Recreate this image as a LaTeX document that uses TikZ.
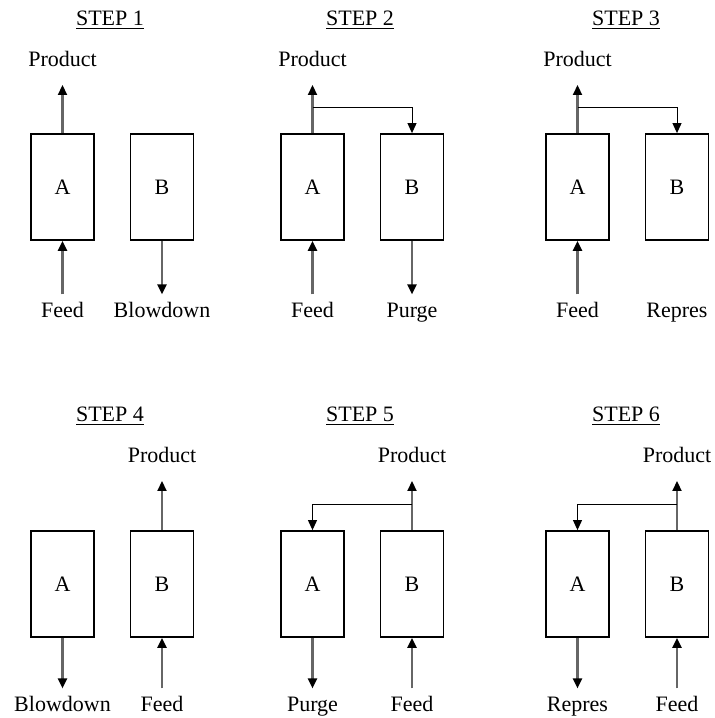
\documentclass[tikz,border=0pt]{standalone}
\usepackage{fontspec}
\setmainfont{Liberation Serif}
\usetikzlibrary{arrows.meta,calc}

\tikzset{
  bed/.style={draw, line width=0.9pt, minimum width=31.5pt, minimum height=53pt, inner sep=0pt},
  stream/.style={draw=black!60, line width=1.1pt, -{Triangle[width=4.5pt,length=5pt,color=black]}},
  recycle/.style={draw=black, line width=0.5pt, -{Triangle[width=4.5pt,length=5pt]}},
  steptitle/.style={anchor=base},
  toplbl/.style={anchor=base, inner ysep=7pt, text depth=0.5ex},
  botlbl/.style={anchor=base, inner ysep=1.9pt, text height=2ex}
}

\begin{document}
\begin{tikzpicture}[x=0.5pt, y=-0.5pt, font=\fontsize{11}{13}\selectfont]
    \useasboundingbox (0,0) rectangle (715,718);
    % ---- step 1 : A on feed, B blown down
    \begin{scope}[shift={(0,0)}]
      \node[steptitle] (t1) at (110,25) {\underline{STEP 1}};
      \node[bed] (a1) at (62.5,187) {A};
      \node[bed] (b1) at (162,187) {B};
      \node[toplbl] (p1) at (62.5,66) {Product};
      \node[botlbl] (f1) at (62.5,317) {Feed};
      \node[botlbl] (w1) at (162,317) {Blowdown};
      \draw[stream] (a1.north) -- (p1.south);
      \draw[stream] (f1.north) -- (a1.south);
      \draw[stream] (b1.south) -- (w1.north);
    \end{scope}
    % ---- step 2 : A on feed, B purged with product
    \begin{scope}[shift={(250,0)}]
      \node[steptitle] (t2) at (110,25) {\underline{STEP 2}};
      \node[bed] (a2) at (62.5,187) {A};
      \node[bed] (b2) at (162,187) {B};
      \node[toplbl] (p2) at (62.5,66) {Product};
      \node[botlbl] (f2) at (62.5,317) {Feed};
      \node[botlbl] (g2) at (162,317) {Purge};
      \coordinate (j2) at ($(a2.north)+(0,-26)$);
      \draw[stream] (a2.north) -- (p2.south);
      \draw[recycle] (j2) -| (b2.north);
      \draw[stream] (f2.north) -- (a2.south);
      \draw[stream] (b2.south) -- (g2.north);
    \end{scope}
    % ---- step 3 : A on feed, B repressurised
    \begin{scope}[shift={(515,0)}]
      \node[steptitle] (t3) at (111,25) {\underline{STEP 3}};
      \node[bed] (a3) at (62.5,187) {A};
      \node[bed] (b3) at (162,187) {B};
      \node[toplbl] (p3) at (62.5,66) {Product};
      \node[botlbl] (f3) at (62.5,317) {Feed};
      \node[botlbl] (r3) at (162,317) {Repres};
      \coordinate (j3) at ($(a3.north)+(0,-26)$);
      \draw[stream] (a3.north) -- (p3.south);
      \draw[recycle] (j3) -| (b3.north);
      \draw[stream] (f3.north) -- (a3.south);
    \end{scope}
    % ---- step 4 : B on feed, A blown down
    \begin{scope}[shift={(0,396)}]
      \node[steptitle] (t4) at (110,25) {\underline{STEP 4}};
      \node[bed] (a4) at (62.5,188) {A};
      \node[bed] (b4) at (162,188) {B};
      \node[toplbl] (p4) at (162,66) {Product};
      \node[botlbl] (w4) at (62.5,315) {Blowdown};
      \node[botlbl] (f4) at (162,315) {Feed};
      \draw[stream] (b4.north) -- (p4.south);
      \draw[stream] (f4.north) -- (b4.south);
      \draw[stream] (a4.south) -- (w4.north);
    \end{scope}
    % ---- step 5 : B on feed, A purged with product
    \begin{scope}[shift={(250,396)}]
      \node[steptitle] (t5) at (110,25) {\underline{STEP 5}};
      \node[bed] (a5) at (62.5,188) {A};
      \node[bed] (b5) at (162,188) {B};
      \node[toplbl] (p5) at (162,66) {Product};
      \node[botlbl] (g5) at (62.5,315) {Purge};
      \node[botlbl] (f5) at (162,315) {Feed};
      \coordinate (j5) at ($(b5.north)+(0,-26)$);
      \draw[stream] (b5.north) -- (p5.south);
      \draw[recycle] (j5) -| (a5.north);
      \draw[stream] (f5.north) -- (b5.south);
      \draw[stream] (a5.south) -- (g5.north);
    \end{scope}
    % ---- step 6 : B on feed, A repressurised
    \begin{scope}[shift={(515,396)}]
      \node[steptitle] (t6) at (111,25) {\underline{STEP 6}};
      \node[bed] (a6) at (62.5,188) {A};
      \node[bed] (b6) at (162,188) {B};
      \node[toplbl] (p6) at (162,66) {Product};
      \node[botlbl] (r6) at (62.5,315) {Repres};
      \node[botlbl] (f6) at (162,315) {Feed};
      \coordinate (j6) at ($(b6.north)+(0,-26)$);
      \draw[stream] (b6.north) -- (p6.south);
      \draw[recycle] (j6) -| (a6.north);
      \draw[stream] (f6.north) -- (b6.south);
      \draw[stream] (a6.south) -- (r6.north);
    \end{scope}
  \end{tikzpicture}
\end{document}
